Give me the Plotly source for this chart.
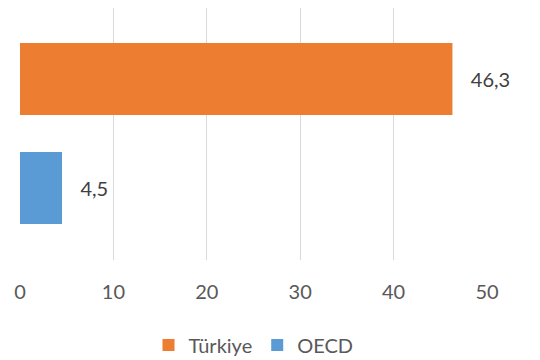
import plotly.graph_objects as go

countries = ["Türkiye", "OECD"]
values = [46.3, 4.5]
colors = ["#ED7D31", "#5B9BD5"]
x_ticks = [0, 10, 20, 30, 40, 50]

fig = go.Figure()
for name, val, col in zip(countries, values, colors):
    fig.add_trace(go.Bar(
        x=[val], y=[name], name=name, orientation="h",
        marker=dict(color=col, line=dict(width=0)),
        width=0.66,
        texttemplate="\u00a0\u00a0\u00a0%{x:.1f}",
        textposition="outside",
        textfont=dict(size=20, color="#404040"),
        cliponaxis=False,
        hoverinfo="skip",
    ))

# the page adds an 8px body margin, so the figure is sized to fit inside it
fig.update_layout(
    width=532, height=352,
    margin=dict(l=12, r=53, t=0, b=100, autoexpand=False),
    paper_bgcolor="white", plot_bgcolor="white",
    separators=",.",
    barmode="overlay",
    font=dict(family="Lato, Open Sans, sans-serif", size=20, color="#595959"),
    showlegend=True,
    legend=dict(orientation="h", x=0.5, xanchor="center", y=-0.337, yanchor="middle",
                font=dict(size=20, color="#595959"), itemwidth=30,
                traceorder="normal"),
    xaxis=dict(range=[0, 50], tickvals=x_ticks, showgrid=True,
               gridcolor="#d9d9d9", gridwidth=1.3, zeroline=False,
               showline=False, ticks="outside", ticklen=14,
               tickcolor="rgba(0,0,0,0)", automargin=False),
    yaxis=dict(categoryorder="array", categoryarray=["OECD", "Türkiye"],
               range=[-0.66, 1.651], showticklabels=False, showgrid=False,
               zeroline=False, showline=False, automargin=False),
)

fig.write_html("out.html")
